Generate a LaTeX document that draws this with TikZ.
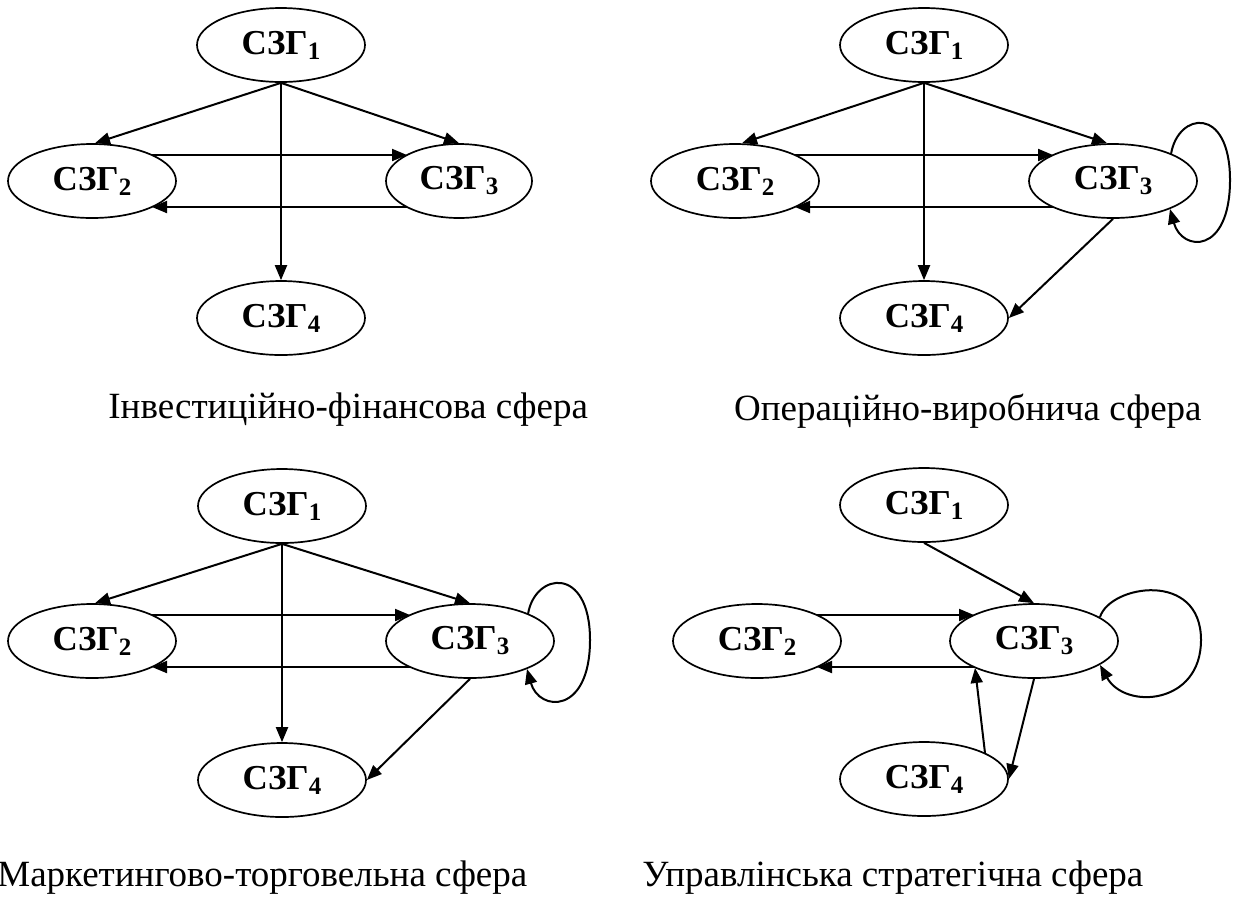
\documentclass[tikz,border=0pt]{standalone}
\usepackage{fontspec}
\setmainfont{Liberation Serif}
\usetikzlibrary{shapes.geometric,arrows.meta,calc}
\newcommand\zsub[1]{\raisebox{-2.5pt}{\fontsize{12.5}{13}\selectfont #1}}
\begin{document}
\begin{tikzpicture}[x=0.5pt,y=-0.5pt,
  zg/.style={ellipse, draw, line width=0.85pt, minimum width=84pt, minimum height=37pt, inner sep=0pt, font=\fontsize{17.5}{20}\selectfont\bfseries},
  arr/.style={line width=1pt, -{Triangle[length=7.5pt,width=6pt]}},
  lab/.style={font=\fontsize{18.5}{22}\selectfont, inner sep=0pt}]
\useasboundingbox (0,0) rectangle (1235,896);
% ---------- panel 1
\node[zg] (a1) at (281,45) {СЗГ\zsub{1}};
\node[zg] (a2) at (92,181) {СЗГ\zsub{2}};
\node[zg,minimum width=73pt] (a3) at (459,181) {СЗГ\zsub{3}};
\node[zg] (a4) at (281,318) {СЗГ\zsub{4}};
\draw[arr] (a1.south) -- ($(a2.north)+(3,0)$);
\draw[arr] (a1.south) -- (a3.north);
\draw[arr] (a1.south) -- (a4.north);
\draw[arr] ($(a2)+(60,-26)$) -- ($(a3)+(-52,-26)$);
\draw[arr] ($(a3)+(-52,26)$) -- ($(a2)+(60,26)$);
\node[lab,anchor=base west] (la) at (108,418) {Інвестиційно-фінансова сфера};
% ---------- panel 2
\node[zg] (b1) at (924,45) {СЗГ\zsub{1}};
\node[zg] (b2) at (735,181) {СЗГ\zsub{2}};
\node[zg] (b3) at (1113,181) {СЗГ\zsub{3}};
\node[zg] (b4) at (924,318) {СЗГ\zsub{4}};
\draw[arr] (b1.south) -- ($(b2.north)+(7,0)$);
\draw[arr] (b1.south) -- ($(b3.north)+(-6,0)$);
\draw[arr] (b1.south) -- (b4.north);
\draw[arr] ($(b2)+(60,-26)$) -- ($(b3)+(-60,-26)$);
\draw[arr] ($(b3)+(-60,26)$) -- ($(b2)+(60,26)$);
\draw[arr] (b3.south) -- (b4.east);
\draw[arr] ($(b3)+(58,-27)$) .. controls ($(b3)+(65,-69)$) and ($(b3)+(117,-76)$) .. ($(b3)+(117,-1)$)
  .. controls ($(b3)+(117,74)$) and ($(b3)+(69,71)$) .. ($(b3)+(57,28)$);
\node[lab,anchor=base east] (lb) at (1202,420) {Операційно-виробнича сфера};
% ---------- panel 3
\node[zg] (c1) at (282,506) {СЗГ\zsub{1}};
\node[zg] (c2) at (92,641) {СЗГ\zsub{2}};
\node[zg] (c3) at (470,641) {СЗГ\zsub{3}};
\node[zg] (c4) at (282,780) {СЗГ\zsub{4}};
\draw[arr] (c1.south) -- ($(c2.north)+(3,0)$);
\draw[arr] (c1.south) -- (c3.north);
\draw[arr] (c1.south) -- (c4.north);
\draw[arr] ($(c2)+(60,-26)$) -- ($(c3)+(-60,-26)$);
\draw[arr] ($(c3)+(-60,26)$) -- ($(c2)+(60,26)$);
\draw[arr] (c3.south) -- (c4.east);
\draw[arr] ($(c3)+(58,-27)$) .. controls ($(c3)+(65,-69)$) and ($(c3)+(120,-76)$) .. ($(c3)+(120,-1)$)
  .. controls ($(c3)+(120,74)$) and ($(c3)+(69,71)$) .. ($(c3)+(57,28)$);
\node[lab,anchor=base west] (lc) at (-3,886) {Маркетингово-торговельна сфера};
% ---------- panel 4
\node[zg] (d1) at (924,505) {СЗГ\zsub{1}};
\node[zg] (d2) at (757,641) {СЗГ\zsub{2}};
\node[zg] (d3) at (1034,641) {СЗГ\zsub{3}};
\node[zg] (d4) at (924,779) {СЗГ\zsub{4}};
\draw[arr] (d1.south) -- (d3.north);
\draw[arr] ($(d2)+(60,-26)$) -- ($(d3)+(-60,-26)$);
\draw[arr] ($(d3)+(-60,26)$) -- ($(d2)+(60,26)$);
\draw[arr] ($(d4)+(61,-26)$) -- ($(d3)+(-59,27)$);
\draw[arr] (d3.south) -- (d4.east);
\draw[arr] ($(d3)+(66,-24)$) .. controls ($(d3)+(76,-56)$) and ($(d3)+(167,-71)$) .. ($(d3)+(167,-1)$)
  .. controls ($(d3)+(167,64)$) and ($(d3)+(91,69)$) .. ($(d3)+(66,24)$);
\node[lab,anchor=base west] (ld) at (642,886) {Управлінська стратегічна сфера};
\end{tikzpicture}
\end{document}
